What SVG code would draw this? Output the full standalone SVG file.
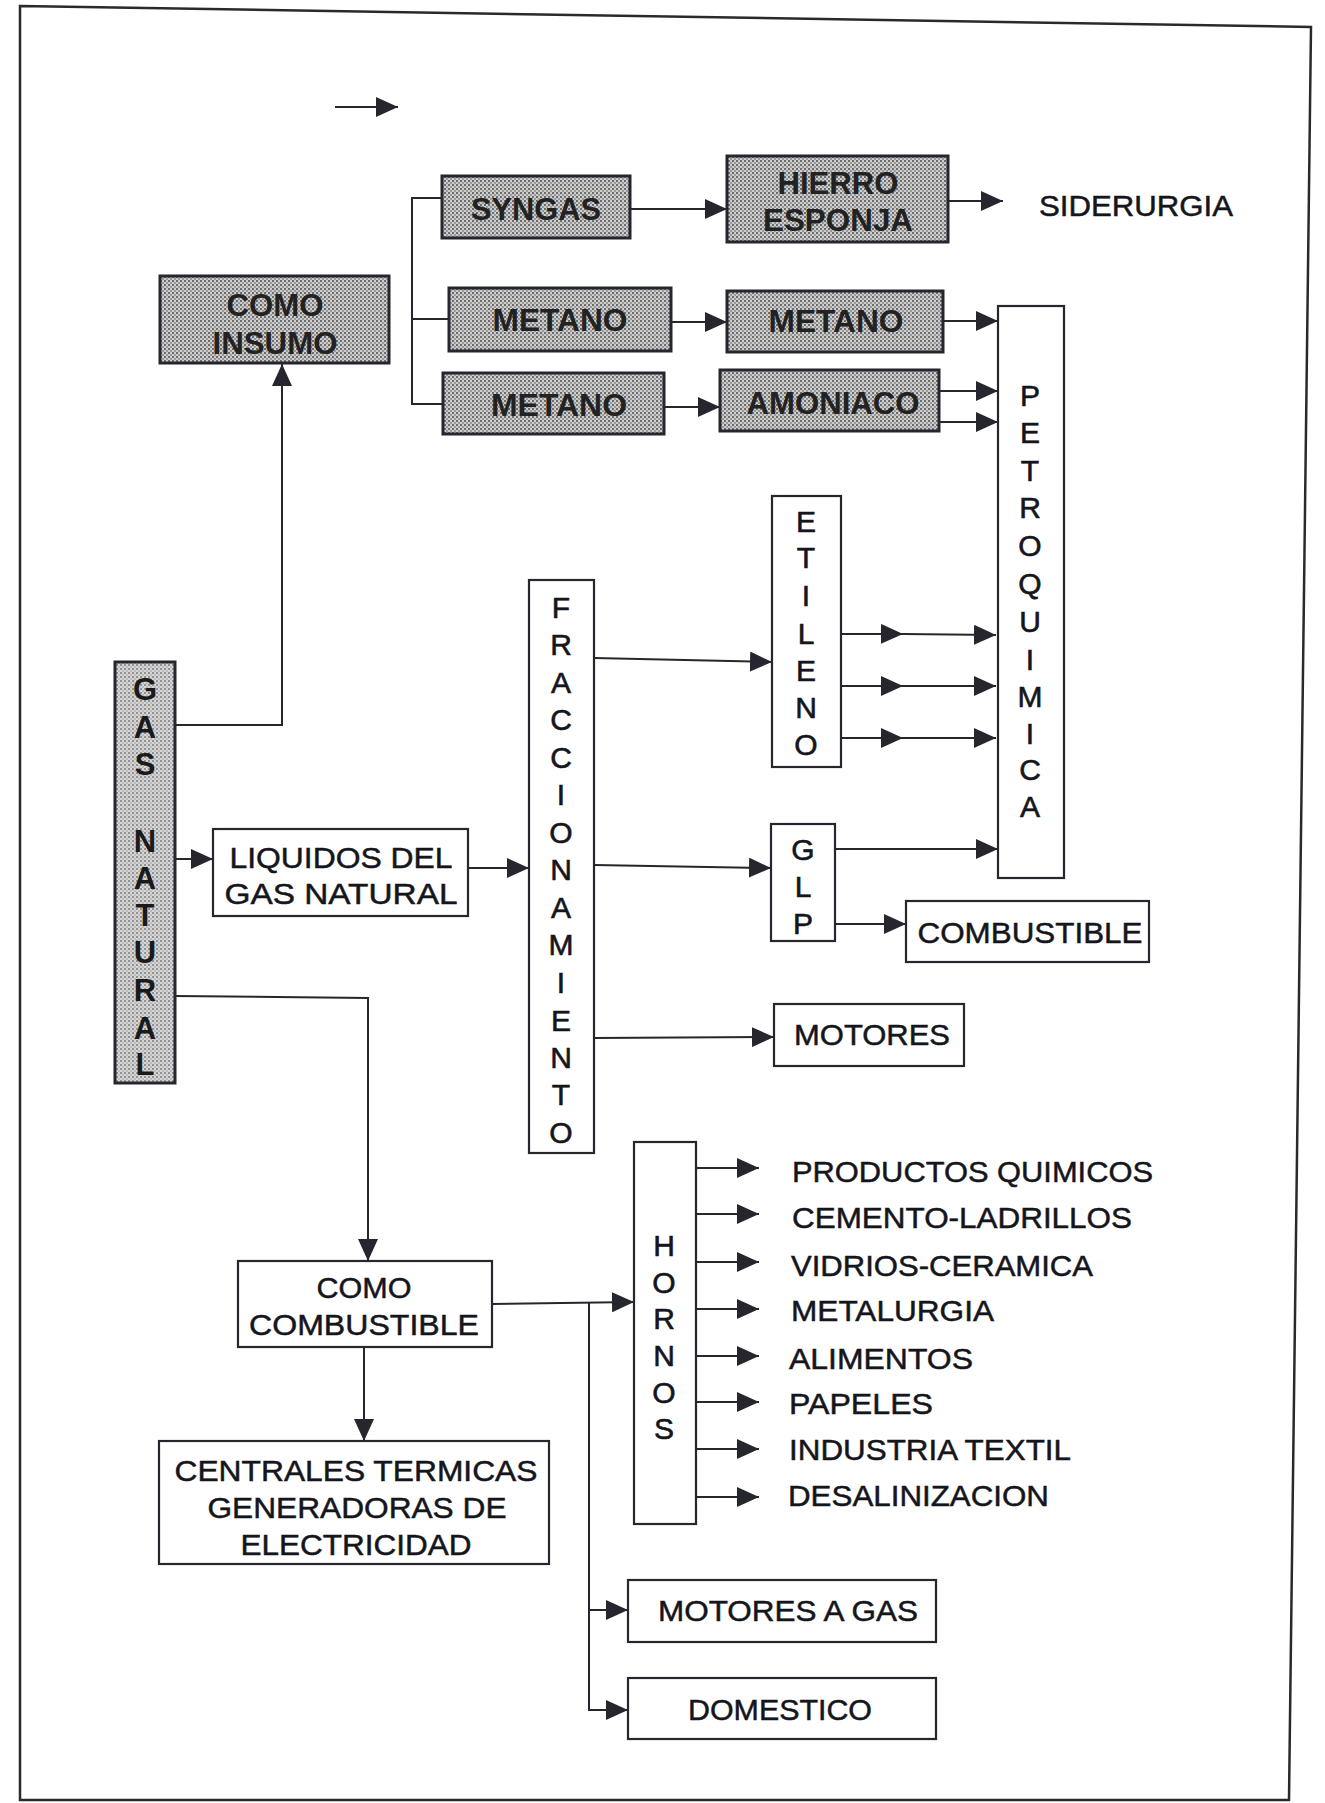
<svg xmlns="http://www.w3.org/2000/svg" width="1325" height="1803" viewBox="0 0 1325 1803">
<defs>
  <pattern id="dots" width="4" height="4" patternUnits="userSpaceOnUse">
    <rect width="4" height="4" fill="#cfcfcf"/>
    <circle cx="1" cy="1" r="1.15" fill="#666666"/>
    <circle cx="3" cy="3" r="0.95" fill="#828282"/>
  </pattern>
  <pattern id="dotsLight" width="4" height="4" patternUnits="userSpaceOnUse">
    <rect width="4" height="4" fill="#d6d6d6"/>
    <circle cx="1" cy="1" r="1" fill="#7a7a7a"/>
    <circle cx="3" cy="3" r="0.8" fill="#999999"/>
  </pattern>
  <marker id="ah" markerUnits="userSpaceOnUse" markerWidth="24" markerHeight="20" refX="22" refY="10" orient="auto">
    <path d="M0,0 L22,10 L0,20 Z" fill="#26262e"/>
  </marker>
</defs>
<style>
  .box { fill: #ffffff; stroke: #26262e; stroke-width: 2.2; }
  .shaded { fill: url(#dots); stroke: #26262e; stroke-width: 3; }
  .gn { fill: url(#dotsLight); stroke: #26262e; stroke-width: 3; }
  .t { font-family: "Liberation Sans", Arial, sans-serif; font-size: 30px; fill: #15151c; stroke: #15151c; stroke-width: 0.5; }
  .tb { font-family: "Liberation Sans", Arial, sans-serif; font-size: 32px; font-weight: bold; fill: #222222; }
  .v { font-family: "Liberation Sans", Arial, sans-serif; font-size: 30px; fill: #15151c; stroke: #15151c; stroke-width: 0.6; text-anchor: middle; }
  .vb { font-family: "Liberation Sans", Arial, sans-serif; font-size: 31px; font-weight: bold; fill: #1a1a1a; text-anchor: middle; }
  .c { text-anchor: middle; }
  .ln { fill: none; stroke: #26262e; stroke-width: 2; }
  .ar { fill: none; stroke: #26262e; stroke-width: 2; marker-end: url(#ah); }
  .arm { fill: none; stroke: #26262e; stroke-width: 2; marker-mid: url(#ah); marker-end: url(#ah); }
</style>
<rect width="1325" height="1803" fill="#ffffff"/>
<!-- page frame -->
<polygon points="20,6 1311,27 1289,1800 20,1800" fill="none" stroke="#2a2a2a" stroke-width="2.5"/>

<!-- connectors -->
<g id="connectors">
  <path class="ar" d="M335,107 L398,107"/>
  <path class="ar" d="M175,725 L282,725 L282,364"/>
  <path class="ln" d="M442,198 L412,198 L412,404 L443,404 M412,319 L449,319"/>
  <path class="ar" d="M630,209 L727,209"/>
  <path class="ar" d="M948,201 L1003,201"/>
  <path class="ar" d="M671,322 L727,322"/>
  <path class="ar" d="M943,321 L998,321"/>
  <path class="ar" d="M664,407 L720,407"/>
  <path class="ar" d="M939,391 L998,391"/>
  <path class="ar" d="M939,422 L998,422"/>
  <path class="ar" d="M594,658 L772,662"/>
  <path class="arm" d="M841,634 L903,634 L996,635"/>
  <path class="arm" d="M841,686 L903,686 L996,686"/>
  <path class="arm" d="M841,738 L903,738 L996,738"/>
  <path class="ar" d="M175,859 L213,859"/>
  <path class="ar" d="M468,868 L529,868"/>
  <path class="ar" d="M594,865 L771,868"/>
  <path class="ar" d="M835,849 L998,849"/>
  <path class="ar" d="M835,924 L906,924"/>
  <path class="ar" d="M594,1038 L774,1037"/>
  <path class="ar" d="M175,996 L368,998 L368,1261"/>
  <path class="ar" d="M364,1347 L364,1441"/>
  <path class="ar" d="M492,1304 L634,1302"/>
  <path class="ar" d="M589,1303 L589,1610 L628,1610"/>
  <path class="ar" d="M589,1600 L589,1710 L628,1710"/>
  <path class="ar" d="M696,1168 L759,1168"/>
  <path class="ar" d="M696,1214 L759,1214"/>
  <path class="ar" d="M696,1262 L759,1262"/>
  <path class="ar" d="M696,1309 L759,1309"/>
  <path class="ar" d="M696,1356 L759,1356"/>
  <path class="ar" d="M696,1402 L759,1402"/>
  <path class="ar" d="M696,1449 L759,1449"/>
  <path class="ar" d="M696,1497 L759,1497"/>
</g>

<!-- nodes -->
<g id="syngas">
  <rect class="shaded" x="442" y="176" width="188" height="62"/>
  <text class="tb c" x="536" y="220" textLength="130" lengthAdjust="spacingAndGlyphs">SYNGAS</text>
</g>
<g id="hierro-esponja">
  <rect class="shaded" x="727" y="156" width="221" height="86"/>
  <text class="tb c" x="838" y="194" textLength="121" lengthAdjust="spacingAndGlyphs">HIERRO</text>
  <text class="tb c" x="838" y="231" textLength="150" lengthAdjust="spacingAndGlyphs">ESPONJA</text>
</g>
<g id="siderurgia">
  <text class="t" x="1039" y="216" textLength="194" lengthAdjust="spacingAndGlyphs">SIDERURGIA</text>
</g>
<g id="como-insumo">
  <rect class="shaded" x="160" y="276" width="229" height="87"/>
  <text class="tb c" x="275" y="316" textLength="97" lengthAdjust="spacingAndGlyphs">COMO</text>
  <text class="tb c" x="275" y="354" textLength="125" lengthAdjust="spacingAndGlyphs">INSUMO</text>
</g>
<g id="metano-1">
  <rect class="shaded" x="449" y="288" width="222" height="63"/>
  <text class="tb c" x="560" y="331" textLength="135" lengthAdjust="spacingAndGlyphs">METANO</text>
</g>
<g id="metano-2">
  <rect class="shaded" x="727" y="291" width="216" height="61"/>
  <text class="tb c" x="836" y="332" textLength="135" lengthAdjust="spacingAndGlyphs">METANO</text>
</g>
<g id="metano-3">
  <rect class="shaded" x="443" y="373" width="221" height="61"/>
  <text class="tb c" x="559" y="416" textLength="136" lengthAdjust="spacingAndGlyphs">METANO</text>
</g>
<g id="amoniaco">
  <rect class="shaded" x="720" y="370" width="219" height="61"/>
  <text class="tb c" x="833" y="414" textLength="173" lengthAdjust="spacingAndGlyphs">AMONIACO</text>
</g>
<g id="petroquimica">
  <rect class="box" x="998" y="306" width="66" height="572"/>
  <text class="v" x="1030" y="406">P</text>
  <text class="v" x="1030" y="443">E</text>
  <text class="v" x="1030" y="481">T</text>
  <text class="v" x="1030" y="518">R</text>
  <text class="v" x="1030" y="556">O</text>
  <text class="v" x="1030" y="594">Q</text>
  <text class="v" x="1030" y="632">U</text>
  <text class="v" x="1030" y="670">I</text>
  <text class="v" x="1030" y="707">M</text>
  <text class="v" x="1030" y="744">I</text>
  <text class="v" x="1030" y="780">C</text>
  <text class="v" x="1030" y="817">A</text>
</g>
<g id="etileno">
  <rect class="box" x="772" y="496" width="69" height="271"/>
  <text class="v" x="806" y="532">E</text>
  <text class="v" x="806" y="568">T</text>
  <text class="v" x="806" y="606">I</text>
  <text class="v" x="806" y="644">L</text>
  <text class="v" x="806" y="681">E</text>
  <text class="v" x="806" y="718">N</text>
  <text class="v" x="806" y="755">O</text>
</g>
<g id="fraccionamiento">
  <rect class="box" x="529" y="580" width="65" height="573"/>
  <text class="v" x="561" y="618">F</text>
  <text class="v" x="561" y="655">R</text>
  <text class="v" x="561" y="693">A</text>
  <text class="v" x="561" y="730">C</text>
  <text class="v" x="561" y="768">C</text>
  <text class="v" x="561" y="805">I</text>
  <text class="v" x="561" y="843">O</text>
  <text class="v" x="561" y="880">N</text>
  <text class="v" x="561" y="918">A</text>
  <text class="v" x="561" y="955">M</text>
  <text class="v" x="561" y="993">I</text>
  <text class="v" x="561" y="1031">E</text>
  <text class="v" x="561" y="1068">N</text>
  <text class="v" x="561" y="1105">T</text>
  <text class="v" x="561" y="1143">O</text>
</g>
<g id="gas-natural">
  <rect class="gn" x="115" y="662" width="60" height="421"/>
  <text class="vb" x="145" y="700">G</text>
  <text class="vb" x="145" y="738">A</text>
  <text class="vb" x="145" y="775">S</text>
  <text class="vb" x="145" y="852">N</text>
  <text class="vb" x="145" y="889">A</text>
  <text class="vb" x="145" y="926">T</text>
  <text class="vb" x="145" y="963">U</text>
  <text class="vb" x="145" y="1001">R</text>
  <text class="vb" x="145" y="1039">A</text>
  <text class="vb" x="145" y="1075">L</text>
</g>
<g id="liquidos">
  <rect class="box" x="213" y="829" width="255" height="87"/>
  <text class="t c" x="341" y="868" textLength="223" lengthAdjust="spacingAndGlyphs">LIQUIDOS DEL</text>
  <text class="t c" x="341" y="904" textLength="233" lengthAdjust="spacingAndGlyphs">GAS NATURAL</text>
</g>
<g id="glp">
  <rect class="box" x="771" y="824" width="64" height="117"/>
  <text class="v" x="803" y="860">G</text>
  <text class="v" x="803" y="897">L</text>
  <text class="v" x="803" y="934">P</text>
</g>
<g id="combustible-glp">
  <rect class="box" x="906" y="901" width="243" height="61"/>
  <text class="t c" x="1030" y="943" textLength="225" lengthAdjust="spacingAndGlyphs">COMBUSTIBLE</text>
</g>
<g id="motores">
  <rect class="box" x="774" y="1004" width="190" height="62"/>
  <text class="t c" x="872" y="1045" textLength="156" lengthAdjust="spacingAndGlyphs">MOTORES</text>
</g>
<g id="hornos">
  <rect class="box" x="634" y="1142" width="62" height="382"/>
  <text class="v" x="664" y="1256">H</text>
  <text class="v" x="664" y="1293">O</text>
  <text class="v" x="664" y="1329">R</text>
  <text class="v" x="664" y="1366">N</text>
  <text class="v" x="664" y="1403">O</text>
  <text class="v" x="664" y="1439">S</text>
</g>
<g id="hornos-usos">
  <text class="t" x="792" y="1182" textLength="361" lengthAdjust="spacingAndGlyphs">PRODUCTOS QUIMICOS</text>
  <text class="t" x="792" y="1228" textLength="340" lengthAdjust="spacingAndGlyphs">CEMENTO-LADRILLOS</text>
  <text class="t" x="791" y="1276" textLength="302" lengthAdjust="spacingAndGlyphs">VIDRIOS-CERAMICA</text>
  <text class="t" x="791" y="1321" textLength="203" lengthAdjust="spacingAndGlyphs">METALURGIA</text>
  <text class="t" x="789" y="1369" textLength="184" lengthAdjust="spacingAndGlyphs">ALIMENTOS</text>
  <text class="t" x="789" y="1414" textLength="144" lengthAdjust="spacingAndGlyphs">PAPELES</text>
  <text class="t" x="789" y="1460" textLength="282" lengthAdjust="spacingAndGlyphs">INDUSTRIA TEXTIL</text>
  <text class="t" x="788" y="1506" textLength="261" lengthAdjust="spacingAndGlyphs">DESALINIZACION</text>
</g>
<g id="como-combustible">
  <rect class="box" x="238" y="1261" width="254" height="86"/>
  <text class="t c" x="364" y="1298" textLength="95" lengthAdjust="spacingAndGlyphs">COMO</text>
  <text class="t c" x="364" y="1335" textLength="230" lengthAdjust="spacingAndGlyphs">COMBUSTIBLE</text>
</g>
<g id="centrales">
  <rect class="box" x="159" y="1441" width="390" height="123"/>
  <text class="t c" x="356" y="1481" textLength="363" lengthAdjust="spacingAndGlyphs">CENTRALES TERMICAS</text>
  <text class="t c" x="357" y="1518" textLength="299" lengthAdjust="spacingAndGlyphs">GENERADORAS DE</text>
  <text class="t c" x="356" y="1555" textLength="231" lengthAdjust="spacingAndGlyphs">ELECTRICIDAD</text>
</g>
<g id="motores-a-gas">
  <rect class="box" x="628" y="1580" width="308" height="62"/>
  <text class="t c" x="788" y="1621" textLength="260" lengthAdjust="spacingAndGlyphs">MOTORES A GAS</text>
</g>
<g id="domestico">
  <rect class="box" x="628" y="1678" width="308" height="61"/>
  <text class="t c" x="780" y="1720" textLength="184" lengthAdjust="spacingAndGlyphs">DOMESTICO</text>
</g>
</svg>
